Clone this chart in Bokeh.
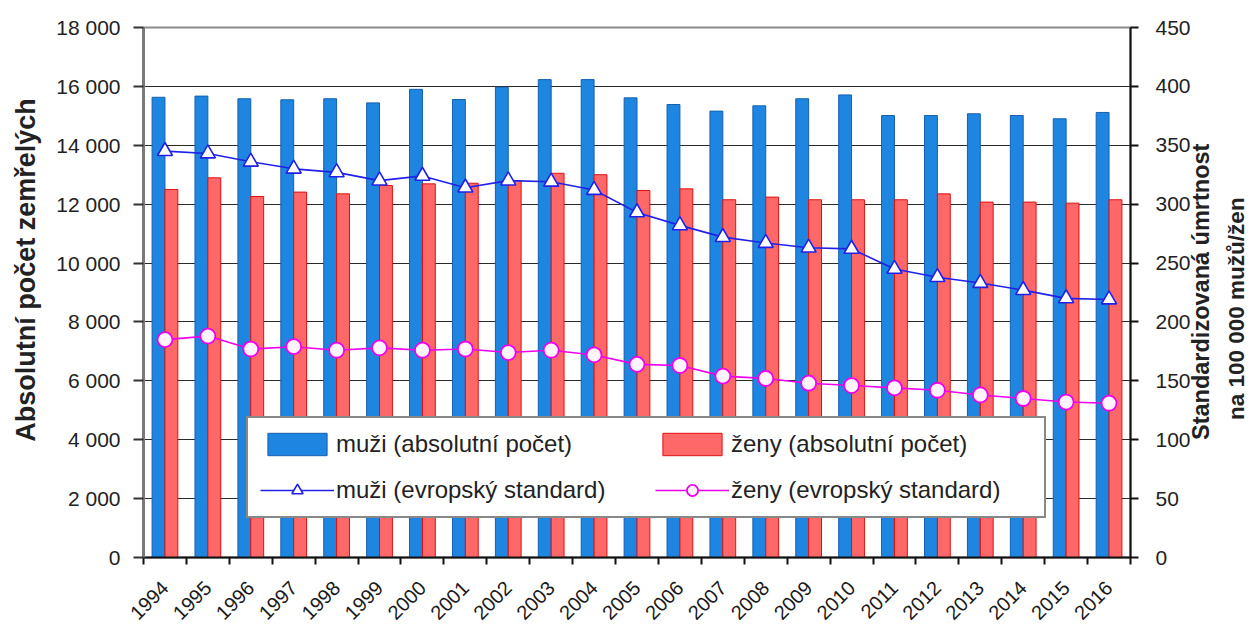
import math
from bokeh.plotting import figure
from bokeh.models import (LinearAxis, Range1d, FixedTicker, Legend, LegendItem,
                          ColumnDataSource, Grid)
from bokeh.embed import file_html
from bokeh.resources import INLINE

# ---------------- data ----------------
years = ["1994", "1995", "1996", "1997", "1998", "1999", "2000", "2001", "2002",
         "2003", "2004", "2005", "2006", "2007", "2008", "2009", "2010", "2011",
         "2012", "2013", "2014", "2015", "2016"]
muzi_abs = [15630, 15670, 15580, 15545, 15580, 15440, 15900, 15555, 15970, 16230,
            16230, 15610, 15385, 15160, 15340, 15580, 15710, 15010, 15010, 15070,
            15010, 14900, 15115]
zeny_abs = [12500, 12895, 12260, 12410, 12350, 12635, 12690, 12710, 12800, 13050,
            13000, 12465, 12520, 12150, 12240, 12150, 12150, 12150, 12350, 12070,
            12070, 12035, 12150]
muzi_std = [345, 343, 336, 330, 327, 320, 324, 314, 320, 319, 312, 293, 282, 272,
            267, 263, 262, 245, 238, 233, 227, 220, 219]
zeny_std = [185, 188, 177, 179, 176, 178, 176, 177, 174, 176, 172, 164, 163, 154,
            152, 148, 146, 144, 142, 138, 135, 132, 131]
left_ticks = [0, 2000, 4000, 6000, 8000, 10000, 12000, 14000, 16000, 18000]
left_tick_labels = ["0", "2 000", "4 000", "6 000", "8 000", "10 000", "12 000",
                    "14 000", "16 000", "18 000"]
right_ticks = [0, 50, 100, 150, 200, 250, 300, 350, 400, 450]
legend_labels = ["muži (absolutní počet)", "ženy (absolutní počet)",
                 "muži (evropský standard)", "ženy (evropský standard)"]
left_title = "Absolutní počet zemřelých"
right_title_1 = "Standardizovaná úmrtnost"
right_title_2 = "na 100 000 mužů/žen"

FONT = "Liberation Sans"
NBSP = "\u00a0"
n = len(years)
centers = [i + 0.5 for i in range(n)]
src = ColumnDataSource(dict(
    xm=[c - 0.15 for c in centers], xz=[c + 0.15 for c in centers], xc=centers,
    muzi_abs=muzi_abs, zeny_abs=zeny_abs, muzi_std=muzi_std, zeny_std=zeny_std))

p = figure(frame_width=987, frame_height=530,
           x_range=Range1d(0, n), y_range=Range1d(0, 18000),
           output_backend="svg", toolbar_location=None,
           x_axis_type=None, y_axis_type=None,
           min_border_left=143, min_border_right=118, min_border_top=27,
           min_border_bottom=60)
p.extra_y_ranges = {"std": Range1d(0, 450)}
p.outline_line_color = "#8c8c8c"
p.outline_line_width = 2
p.background_fill_color = "white"
p.border_fill_color = "white"

p.add_layout(Grid(dimension=1, ticker=FixedTicker(ticks=left_ticks),
                  grid_line_color="#2a2a2a", grid_line_width=1))

# x axis
xax = LinearAxis(ticker=FixedTicker(ticks=centers, minor_ticks=list(range(n + 1))),
                 major_label_overrides={c: y for c, y in zip(centers, years)},
                 major_label_orientation=math.pi / 4)
xax.major_tick_line_color = None
xax.major_tick_out = 0
xax.major_tick_in = 0
xax.minor_tick_line_color = "#111111"
xax.minor_tick_out = 7
xax.minor_tick_in = 0
xax.minor_tick_line_width = 2
xax.axis_line_color = "#111111"
xax.axis_line_width = 2
xax.major_label_text_font = FONT
xax.major_label_text_font_size = "20px"
xax.major_label_text_color = "#1a1a1a"
xax.major_label_standoff = 20
p.add_layout(xax, "below")

# left axis (title shifted upward a little, as in the original)
lax = LinearAxis(ticker=FixedTicker(ticks=left_ticks),
                 major_label_overrides={t: l for t, l in zip(left_ticks, left_tick_labels)},
                 axis_label=NBSP * 6 + left_title)
lax.axis_line_color = "#7a7a7a"
lax.axis_line_width = 3
lax.major_tick_line_color = "#333333"
lax.major_tick_line_width = 2
lax.major_tick_out = 10
lax.major_tick_in = 0
lax.minor_tick_line_color = None
lax.major_label_text_font = FONT
lax.major_label_text_font_size = "21px"
lax.major_label_text_color = "#222222"
lax.major_label_standoff = 13
lax.axis_label_text_font = FONT
lax.axis_label_text_font_size = "27px"
lax.axis_label_text_font_style = "bold"
lax.axis_label_text_color = "#222222"
lax.axis_label_standoff = 12
p.add_layout(lax, "left")

# right axis with two title lines reading bottom-to-top
rax = LinearAxis(y_range_name="std", ticker=FixedTicker(ticks=right_ticks),
                 axis_label=NBSP * 18 + right_title_1)
rax.axis_line_color = "#111111"
rax.axis_line_width = 2
rax.major_tick_line_color = "#111111"
rax.major_tick_line_width = 2
rax.major_tick_out = 8
rax.major_tick_in = 0
rax.minor_tick_line_color = None
rax.major_label_text_font = FONT
rax.major_label_text_font_size = "21px"
rax.major_label_text_color = "#222222"
rax.major_label_standoff = 17
rax.axis_label_text_font = FONT
rax.axis_label_text_font_size = "23.5px"
rax.axis_label_text_font_style = "bold"
rax.axis_label_text_color = "#222222"
rax.axis_label_standoff = 7
rax.axis_label_orientation = math.pi / 2
rax.axis_label_align = "start"
p.add_layout(rax, "right")

rax2 = LinearAxis(y_range_name="std", ticker=FixedTicker(ticks=[]),
                  axis_label=NBSP * 22 + right_title_2)
rax2.axis_line_color = None
rax2.major_tick_line_color = None
rax2.minor_tick_line_color = None
rax2.major_label_text_font_size = "0px"
rax2.major_label_standoff = 0
rax2.major_tick_out = 0
rax2.major_tick_in = 0
rax2.axis_label_text_font = FONT
rax2.axis_label_text_font_size = "22.5px"
rax2.axis_label_text_font_style = "bold"
rax2.axis_label_text_color = "#222222"
rax2.axis_label_standoff = 7
rax2.axis_label_orientation = math.pi / 2
rax2.axis_label_align = "start"
p.add_layout(rax2, "right")

# bars
b_m = p.vbar(x="xm", top="muzi_abs", width=0.3, source=src,
             fill_color="#1e86e0", line_color="#155fb0", line_width=1)
b_z = p.vbar(x="xz", top="zeny_abs", width=0.3, source=src,
             fill_color="#ff6868", line_color="#e01010", line_width=1)

# lines
l_m = p.line(x="xc", y="muzi_std", source=src, y_range_name="std",
             line_color="#2020e8", line_width=1.6)
s_m = p.scatter(x="xc", y="muzi_std", source=src, y_range_name="std",
                marker="triangle", size=15, fill_color="white",
                line_color="#2020e8", line_width=1.6)
l_z = p.line(x="xc", y="zeny_std", source=src, y_range_name="std",
             line_color="#ee00ee", line_width=1.6)
s_z = p.scatter(x="xc", y="zeny_std", source=src, y_range_name="std",
                marker="circle", size=15, fill_color="#fff4ff",
                line_color="#ee00ee", line_width=1.8)

legend = Legend(items=[
    LegendItem(label=legend_labels[0], renderers=[b_m]),
    LegendItem(label=legend_labels[2], renderers=[l_m, s_m]),
    LegendItem(label=legend_labels[1], renderers=[b_z]),
    LegendItem(label=legend_labels[3], renderers=[l_z, s_z]),
], location=(103, 39), ncols=2)
legend.glyph_width = 74
legend.glyph_height = 28
legend.label_width = 301
legend.label_height = 28
legend.label_standoff = 2
legend.spacing = 18
legend.padding = 12
legend.margin = 0
legend.border_line_color = "#111111"
legend.border_line_width = 2
legend.background_fill_color = "white"
legend.background_fill_alpha = 1
legend.label_text_font = FONT
legend.label_text_font_size = "24px"
legend.label_text_color = "#222222"
p.add_layout(legend)

open("out.html", "w").write(file_html(p, INLINE))
